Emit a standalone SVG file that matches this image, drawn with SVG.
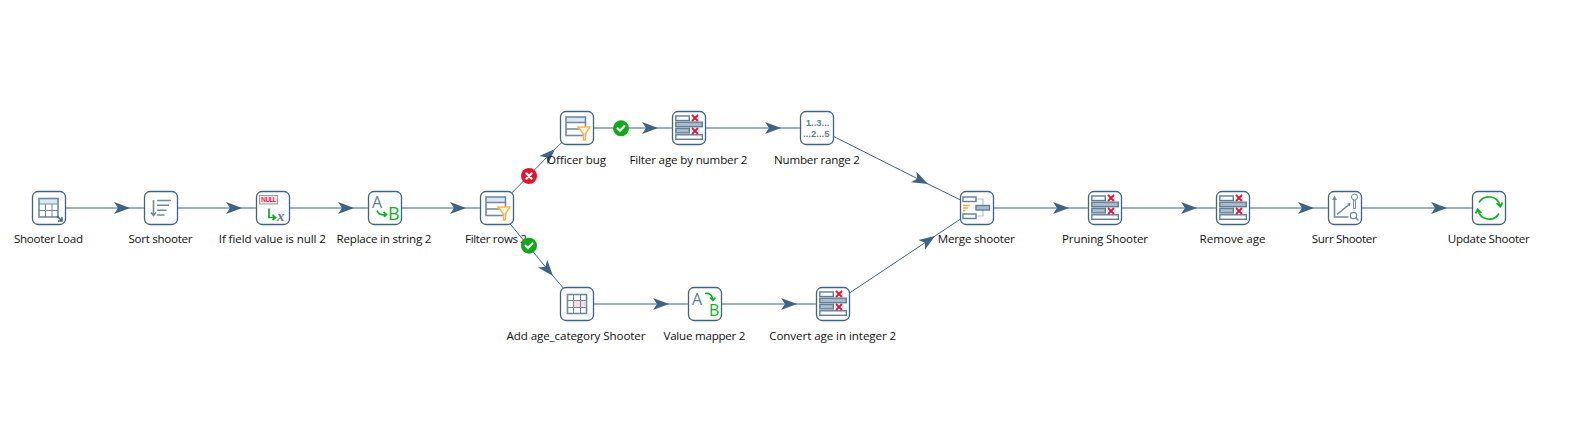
<svg xmlns="http://www.w3.org/2000/svg" xmlns:xlink="http://www.w3.org/1999/xlink" width="1577" height="446" viewBox="0 0 1577 446">
<style>
text{font-family:"Open Sans","Noto Sans","Liberation Sans",sans-serif}
.label{font-size:11.6px;fill:#111;text-anchor:middle}
.box{fill:#fff;stroke:#3f6382;stroke-width:1.3}
.link{fill:none;stroke:#3f6382;stroke-width:1.2;marker-mid:url(#head)}
.diag{stroke-width:1}
.ic{fill:none;stroke:#6d8aa2;stroke-width:1.6}
.icl{fill:none;stroke:#6d8aa2;stroke-width:1}
.rowa{fill:#fff;stroke:#5f7f99;stroke-width:1.4}
.rowb{fill:#a9bccb;stroke:#5f7f99;stroke-width:1.4}
.rx{fill:none;stroke:#e8112d;stroke-width:1.8}
.g{fill:none;stroke:#12b024;stroke-width:1.7}
.or{fill:none;stroke:#f7a833;stroke-width:1.5}
.big{font-family:"Open Sans","Liberation Sans",sans-serif}
.nm{font-family:"Liberation Sans",sans-serif;font-size:9.5px;fill:#5f7f99;text-anchor:end;font-weight:700}
.badge{stroke:none}
.mk{fill:none;stroke:#fff;stroke-width:2.2;stroke-linecap:round;stroke-linejoin:round}
</style>
<defs>
<marker id="head" markerUnits="userSpaceOnUse" markerWidth="18" markerHeight="14" refX="16" refY="6" orient="auto" overflow="visible">
<path d="M0 0L16 6L0 12L4 6Z" fill="#3f6382"/>
</marker>
<rect id="b" class="box" x="0.5" y="0.5" width="33" height="33" rx="5.5"/>
<g id="sel">
<use xlink:href="#b"/>
<rect class="rowa" x="3.8" y="5" width="13.5" height="4.5"/>
<rect class="rowb" x="3.8" y="11.2" width="26.5" height="4.5"/>
<rect class="rowb" x="3.8" y="17.4" width="13.5" height="4.5"/>
<rect class="rowa" x="3.8" y="23.8" width="26.5" height="4.5"/>
<path class="rx" d="M20 4L26 10M26 4L20 10M20 17L26 23M26 17L20 23"/>
</g>
<g id="fil">
<use xlink:href="#b"/>
<rect x="6" y="6" width="19.5" height="5.5" fill="#dbe8f2"/>
<rect class="ic" x="6" y="6" width="19.5" height="18.5"/>
<path class="ic" d="M6 11.5H25.5M6 18H25.5"/>
<path d="M18 16H30L25.5 23V29H23.5V23Z" fill="#fff6e6" stroke="#f9b44f" stroke-width="1.4"/>
</g>
</defs>

<g id="connectors">
<polyline class="link" points="49,208 130,208 161,208"/>
<polyline class="link" points="161,208 242,208 273,208"/>
<polyline class="link" points="273,208 354,208 385,208"/>
<polyline class="link" points="385,208 466,208 497,208"/>
<polyline class="link diag" points="497,208 555,149 577,128"/>
<polyline class="link diag" points="497,208 553,276 577,304"/>
<polyline class="link" points="577,128 658,128 689,128"/>
<polyline class="link" points="689,128 781,128 817,128"/>
<polyline class="link diag" points="817,128 928,184 977,208"/>
<polyline class="link" points="577,304 669,304 705,304"/>
<polyline class="link" points="705,304 797,304 833,304"/>
<polyline class="link diag" points="833,304 935,236 977,208"/>
<polyline class="link" points="977,208 1069,208 1105,208"/>
<polyline class="link" points="1105,208 1197,208 1233,208"/>
<polyline class="link" points="1233,208 1314,208 1345,208"/>
<polyline class="link" points="1345,208 1447,208 1489,208"/>
</g>

<g id="shooter-load" transform="translate(32,191)">
<use xlink:href="#b"/>
<rect x="7" y="7.5" width="19" height="5" fill="#dbe8f2"/>
<rect class="ic" x="7" y="7.5" width="19" height="18.5"/>
<path class="icl" d="M7 13H26M7 19.5H26M13.5 13V26M20 13V26"/>
<path d="M25 25L30 30M30 26V30H26" fill="none" stroke="#3f6382" stroke-width="1.5"/>
</g>
<text class="label" x="48.5" y="242.6" textLength="69">Shooter Load</text>

<g id="sort-shooter" transform="translate(144,191)">
<use xlink:href="#b"/>
<path class="ic" d="M9.5 9V24M7 21.5L9.5 24.5L12 21.5"/>
<path class="ic" d="M13 9.5H27M13 14.3H25M13 19.2H22.5M13 24H20.5"/>
</g>
<text class="label" x="160.5" y="242.6" textLength="64">Sort shooter</text>

<g id="if-null" transform="translate(256,191)">
<use xlink:href="#b"/>
<rect x="3.5" y="4.5" width="18" height="8.5" fill="#f7dfe3" stroke="#8ca3b7"/>
<text x="12.5" y="11.2" font-size="6.5" font-weight="600" fill="#e8112d" text-anchor="middle" textLength="15">NULL</text>
<path class="g" d="M13 17.5V26.5H18.5M16.5 24L19.5 26.5L16.5 29"/>
<text x="21" y="30" font-size="15" font-weight="700" font-style="italic" fill="#5f7f99" style="font-family:'Liberation Serif',serif">x</text>
</g>
<text class="label" x="272.3" y="242.6" textLength="107">If field value is null 2</text>

<g id="replace-string" transform="translate(368,191)">
<use xlink:href="#b"/>
<text class="big" x="4" y="17" font-size="16" fill="#5f7f99">A</text>
<text class="big" x="20" y="29" font-size="18" fill="#12b024">B</text>
<path class="g" d="M9 19.5Q11 25 18 23.5M15.5 21L18.5 23.5L16 26"/>
</g>
<text class="label" x="384" y="242.6" textLength="95">Replace in string 2</text>

<g id="filter-rows" transform="translate(480,191)"><use xlink:href="#fil"/></g>
<text class="label" x="496" y="242.6" textLength="62">Filter rows 2</text>

<g id="officer-bug" transform="translate(560,111)"><use xlink:href="#fil"/></g>
<text class="label" x="576.5" y="163.6" textLength="59">Officer bug</text>

<g id="filter-age" transform="translate(672,111)"><use xlink:href="#sel"/></g>
<text class="label" x="688.5" y="163.6" textLength="118">Filter age by number 2</text>

<g id="number-range" transform="translate(800,111)">
<use xlink:href="#b"/>
<text class="nm" x="29.5" y="14.5">1..3...</text>
<text class="nm" x="29.5" y="25.6">...2...5</text>
</g>
<text class="label" x="817" y="163.6" textLength="86">Number range 2</text>

<g id="add-age" transform="translate(560,287)">
<use xlink:href="#b"/>
<rect x="7.5" y="7.5" width="19" height="19" fill="#fff"/>
<rect x="13" y="13.5" width="12" height="7" fill="#f8dfe3"/>
<rect class="ic" x="7.5" y="7.5" width="19" height="19"/>
<path class="icl" d="M7.5 13.5H26.5M7.5 20.5H26.5M13.5 7.5V26.5M20.5 7.5V26.5"/>
</g>
<text class="label" x="576" y="339.6" textLength="139">Add age_category Shooter</text>

<g id="value-mapper" transform="translate(688,287)">
<use xlink:href="#b"/>
<text class="big" x="4" y="18" font-size="16" fill="#5f7f99">A</text>
<text class="big" x="21" y="29" font-size="16" fill="#12b024">B</text>
<path class="g" d="M17 6.5Q24 5.5 25 13M22 10.5L25 13.5L27.5 10.5"/>
</g>
<text class="label" x="704.5" y="339.6" textLength="82">Value mapper 2</text>

<g id="convert-age" transform="translate(816,287)"><use xlink:href="#sel"/></g>
<text class="label" x="832.7" y="339.6" textLength="127">Convert age in integer 2</text>

<g id="merge-shooter" transform="translate(960,191)">
<use xlink:href="#b"/>
<path d="M16 8H23V25H16M23 16.5H16" fill="none" stroke="#b3c3d0" stroke-width="1.2"/>
<rect class="rowa" x="3" y="6" width="13" height="4.5"/>
<rect class="rowa" x="3" y="23" width="13" height="4.5"/>
<rect class="rowb" x="16" y="14.5" width="13.5" height="4.5"/>
<path class="or" d="M3 14.5H9.5M3 17H8M3 19.5H5.5"/>
</g>
<text class="label" x="976.3" y="242.6" textLength="77">Merge shooter</text>

<g id="pruning-shooter" transform="translate(1088,191)"><use xlink:href="#sel"/></g>
<text class="label" x="1105" y="242.6" textLength="86">Pruning Shooter</text>

<g id="remove-age" transform="translate(1216,191)"><use xlink:href="#sel"/></g>
<text class="label" x="1232.5" y="242.6" textLength="66">Remove age</text>

<g id="surr-shooter" transform="translate(1328,191)">
<use xlink:href="#b"/>
<path class="ic" d="M6.5 7V26H20.5"/>
<path d="M4 9L6.5 4.5L9 9Z" fill="#6d8aa2"/>
<path class="ic" d="M9 23.5L20.5 14"/>
<path d="M19 12.5L22.5 12L21.5 15.5Z" fill="#6d8aa2"/>
<circle class="icl" cx="26.5" cy="6" r="3"/>
<path class="icl" d="M25.5 9V17.5H27.5V9"/>
<circle cx="25.5" cy="24.5" r="3.2" fill="none" stroke="#6d8aa2" stroke-width="1.3"/>
<path class="ic" d="M27.8 26.8L30.5 29.5"/>
</g>
<text class="label" x="1344.2" y="242.6" textLength="65">Surr Shooter</text>

<g id="update-shooter" transform="translate(1472,191)">
<use xlink:href="#b"/>
<path class="g" d="M7 11.5A11.5 11.5 0 0 1 28 14.5M24.5 12L28.3 15.8L30.5 11.5"/>
<path class="g" d="M27 22.5A11.5 11.5 0 0 1 6 19.5M9.5 22L5.7 18.2L3.5 22.5"/>
</g>
<text class="label" x="1488.8" y="242.6" textLength="82">Update Shooter</text>

<g id="badges">
<g transform="translate(529,176)"><circle class="badge" r="8" fill="#e8112d"/><path class="mk" d="M-2.6 -2.6L2.6 2.6M2.6 -2.6L-2.6 2.6"/></g>
<g transform="translate(529,245.7)"><circle class="badge" r="8" fill="#12a81c"/><path class="mk" d="M-3.4 0L-1 2.4L3.4 -2.2"/></g>
<g transform="translate(621,128.3)"><circle class="badge" r="8" fill="#12a81c"/><path class="mk" d="M-3.4 0L-1 2.4L3.4 -2.2"/></g>
</g>
</svg>
